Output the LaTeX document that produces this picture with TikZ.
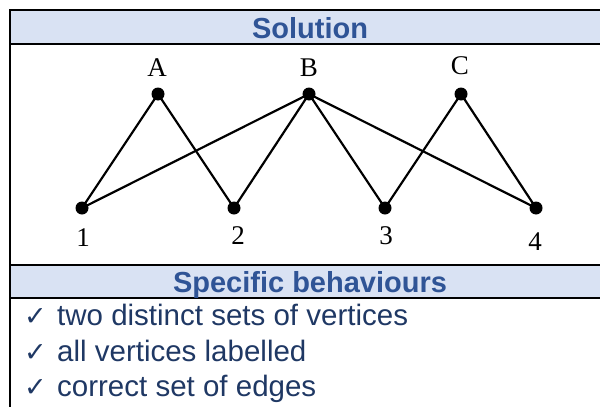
\documentclass[tikz,border=0pt]{standalone}
\usepackage{fontspec}
\setmainfont{Liberation Serif}
\newfontfamily\arialf{Liberation Sans}
\newfontfamily\symf{DejaVu Sans}
\definecolor{hdrfill}{HTML}{D9E2F3}
\definecolor{hdrtext}{HTML}{2F5496}
\definecolor{listtext}{HTML}{1F3864}
\tikzset{
  vertex/.style={circle,fill=black,inner sep=0pt,minimum size=13pt},
  vlabel/.style={font=\fontsize{27}{27}\selectfont,inner sep=0pt},
  edgeline/.style={line width=2.2pt},
  hdr/.style={font=\arialf\bfseries\fontsize{29}{29}\selectfont,text=hdrtext,anchor=base,inner sep=0pt},
  itemtext/.style={font=\arialf\fontsize{29.5}{29.5}\selectfont,text=listtext,anchor=base west,inner sep=0pt},
  tick/.style={font=\symf\fontsize{27}{27}\selectfont,text=listtext,anchor=base west,inner sep=0pt},
  tablerule/.style={line width=2.4pt}
}
\begin{document}
\begin{tikzpicture}[x=1pt,y=-1pt]
\useasboundingbox (0,0) rectangle (600,407);
% header fills
\fill[hdrfill] (10,10) rectangle (600,44);
\fill[hdrfill] (10,265) rectangle (600,298);
% table rules
\draw[tablerule] (600,10) -- (10,10) -- (10,407);
\draw[tablerule] (10,44) -- (600,44);
\draw[tablerule] (10,265) -- (600,265);
\draw[tablerule] (10,298) -- (600,298);
% headers
\node[hdr] (sol) at (310,38) {Solution};
\node[hdr] (spec) at (310,292) {Specific behaviours};
% vertices
\node[vertex] (A) at (158,94) {};
\node[vertex] (B) at (309,94) {};
\node[vertex] (C) at (461,94) {};
\node[vertex] (v1) at (82,208) {};
\node[vertex] (v2) at (234,208) {};
\node[vertex] (v3) at (385,208) {};
\node[vertex] (v4) at (536,208) {};
% labels
\node[vlabel] (lA) at (157,68) {A};
\node[vlabel] (lB) at (309,68) {B};
\node[vlabel] (lC) at (460,66) {C};
\node[vlabel] (l1) at (83,238) {1};
\node[vlabel] (l2) at (238,236) {2};
\node[vlabel] (l3) at (386,236) {3};
\node[vlabel] (l4) at (535,242) {4};
% edges
\draw[edgeline] (A.center) -- (v1.center);
\draw[edgeline] (A.center) -- (v2.center);
\draw[edgeline] (B.center) -- (v1.center);
\draw[edgeline] (B.center) -- (v2.center);
\draw[edgeline] (B.center) -- (v3.center);
\draw[edgeline] (B.center) -- (v4.center);
\draw[edgeline] (C.center) -- (v3.center);
\draw[edgeline] (C.center) -- (v4.center);
% list
\node[tick] (t1) at (24,325) {✓};
\node[itemtext] (i1) at (57,325) {two distinct sets of vertices};
\node[tick] (t2) at (24,361) {✓};
\node[itemtext] (i2) at (57,361) {all vertices labelled};
\node[tick] (t3) at (24,396) {✓};
\node[itemtext] (i3) at (57,396) {correct set of edges};
\end{tikzpicture}
\end{document}
